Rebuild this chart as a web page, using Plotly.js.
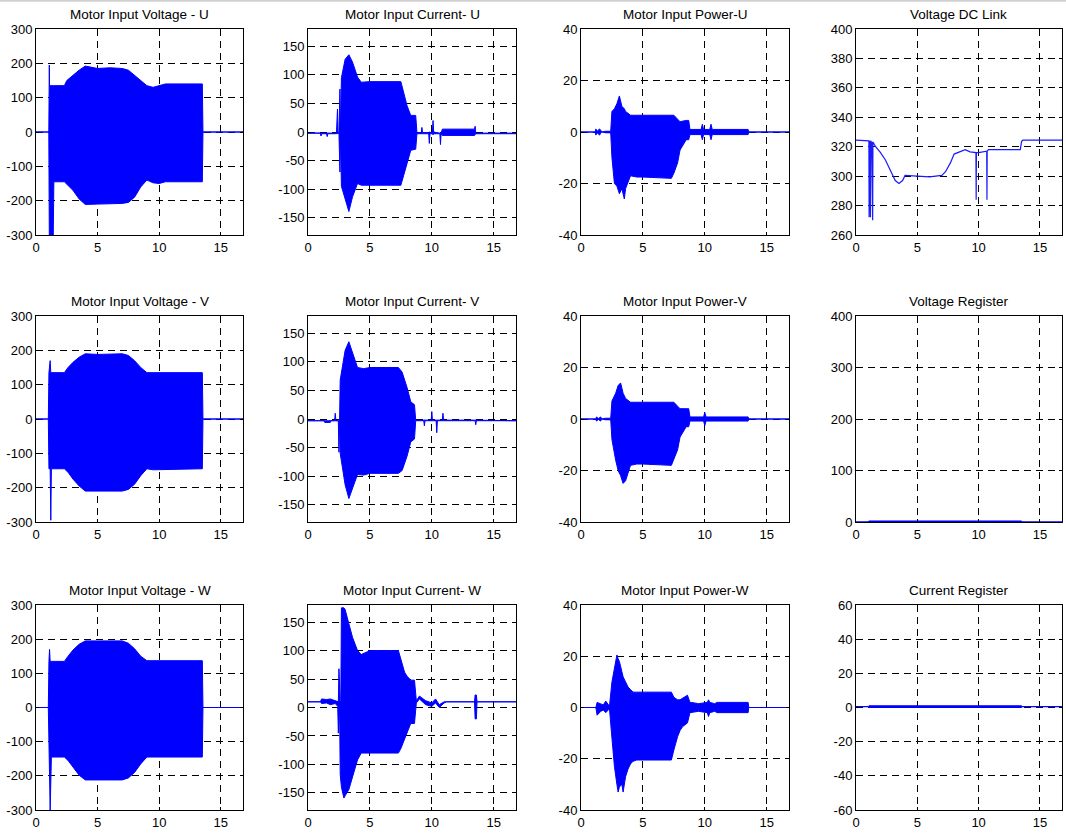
<!DOCTYPE html>
<html>
<head>
<meta charset="utf-8">
<script src="https://cdn.plot.ly/plotly-3.0.1.min.js"></script>
<style>html,body{margin:0;padding:0;background:#fff;}#chart{width:1066px;height:838px;}</style>
</head>
<body>
<div id="chart"></div>
<script>
// ---------- Data (envelopes; time in s) ----------
// Motor Input Voltage - U
var vuT  = [0, 1.04, 1.08, 1.1, 1.4, 1.45, 2.3, 2.5, 3.0, 3.5, 4.0, 5.0, 6.0, 7.0, 7.5, 8.0, 8.5, 9.0, 9.5, 10.0, 10.5, 13.5, 13.55, 16.8];
var vuHi = [0, 0, 195, 135, 135, 135, 135, 150, 165, 180, 192, 185, 187, 185, 180, 165, 150, 135, 130, 135, 140, 140, 0, 0];
var vuLo = [0, 0, -300, -300, -300, -145, -145, -150, -170, -195, -211, -210, -210, -208, -205, -190, -160, -140, -148, -150, -145, -145, 0, 0];
// Motor Input Voltage - V
var vvT  = [0, 1.0, 1.05, 1.15, 1.2, 1.25, 2.3, 2.6, 3.0, 3.5, 4.0, 5.0, 6.0, 7.0, 7.5, 8.0, 8.5, 9.0, 9.5, 10.0, 13.5, 13.55, 16.8];
var vvHi = [0, 0, 135, 170, 135, 135, 135, 150, 165, 180, 190, 188, 190, 190, 185, 170, 150, 135, 135, 135, 135, 0, 0];
var vvLo = [0, 0, -145, -145, -295, -145, -145, -155, -175, -195, -210, -212, -210, -210, -205, -190, -165, -145, -148, -148, -145, 0, 0];
// Motor Input Voltage - W
var vwT  = [0, 1.0, 1.05, 1.1, 1.15, 1.25, 2.3, 2.6, 3.0, 3.5, 4.0, 5.0, 6.0, 7.0, 7.5, 8.0, 8.5, 9.0, 9.5, 10.0, 13.5, 13.55, 16.8];
var vwHi = [0, 0, 135, 170, 135, 135, 135, 150, 168, 185, 195, 195, 195, 195, 188, 172, 150, 137, 137, 137, 137, 0, 0];
var vwLo = [0, 0, -145, -145, -300, -145, -145, -155, -175, -198, -212, -213, -212, -212, -206, -190, -165, -145, -145, -145, -145, 0, 0];

// Motor Input Current - U
var cuT  = [0, 1.0, 1.05, 1.1, 1.5, 1.55, 1.6, 2.3, 2.38, 2.42, 2.5, 2.58, 2.62, 2.7, 3.0, 3.3, 3.6, 4.0, 4.3, 5.0, 7.5, 7.8, 8.0, 8.3, 8.7, 8.8, 9.15, 9.2, 9.25, 9.75, 9.8, 9.85, 10.05, 10.1, 10.15, 10.65, 10.7, 10.75, 10.85, 13.45, 13.5, 13.55, 16.8];
var cuHi = [-2, -2, -2, -2, -2, -2, -2, -2, 40, -2, 0, 75, 0, 95, 127, 135, 122, 96, 87, 88, 88, 61, 46, 29, 29, -1, -1, 8, -1, -1, 0, -1, 0, 20, 0, -2, -2, -2, 5, 5, 10, -2, -2];
var cuLo = [-2, -2, -7, -3, -3, -8, -3, -3, -3, -3, -2, -70, -3, -95, -118, -139, -113, -90, -93, -93, -93, -72, -55, -32, -30, -3, -3, -3, -3, -3, -20, -3, -3, -5, -3, -3, -22, -3, -6, -6, -6, -3, -3];
// Motor Input Current - V
var cvT  = [0, 1.3, 1.35, 1.8, 1.85, 2.15, 2.2, 2.25, 2.45, 2.5, 2.55, 2.6, 3.0, 3.3, 3.6, 4.0, 4.5, 5.0, 7.3, 7.6, 8.0, 8.3, 8.6, 8.7, 9.35, 9.4, 9.45, 9.95, 10.0, 10.05, 10.35, 10.4, 10.45, 10.85, 10.9, 10.95, 13.5, 13.55, 13.6, 16.8];
var cvHi = [-3, -3, -3, -3, -3, -3, 10, -3, -3, -3, -3, 68, 120, 135, 115, 90, 88, 90, 90, 82, 55, 30, 25, -2, -2, -2, -2, -2, 13, -2, -2, -2, -2, -2, 10, -2, -2, -2, -2, -3];
var cvLo = [-3, -3, -6, -6, -3, -3, -3, -3, -3, -58, -3, -60, -115, -139, -120, -97, -98, -95, -95, -90, -65, -40, -35, -3, -3, -12, -3, -3, -3, -3, -3, -24, -3, -3, -3, -3, -3, -10, -3, -3];
// Motor Input Current - W
var cwT  = [0, 1.0, 1.1, 1.5, 1.8, 2.2, 2.4, 2.45, 2.5, 2.55, 2.6, 2.65, 2.7, 2.9, 3.0, 3.3, 3.6, 4.0, 4.3, 4.8, 5.0, 7.3, 7.5, 7.8, 8.0, 8.3, 8.6, 8.75, 9.0, 9.5, 10.0, 10.3, 10.6, 11.0, 11.2, 13.45, 13.5, 13.6, 13.65, 16.8];
var cwHi = [10, 10, 15, 14, 15, 12, 10, 10, 68, 10, 10, 10, 175, 175, 172, 147, 123, 100, 93, 98, 100, 100, 85, 62, 55, 48, 48, 12, 20, 12, 8, 15, 5, 10, 10, 10, 22, 22, 10, 10];
var cwLo = [10, 10, 7, 8, 5, 7, 2, -45, -45, 5, -117, -117, -140, -159, -155, -144, -121, -92, -80, -80, -80, -80, -72, -55, -45, -28, -28, 8, 15, 5, 2, 8, 0, 8, 10, 10, -20, -20, 10, 10];

// Motor Input Power - U
var puT  = [0, 1.15, 1.2, 1.3, 1.5, 1.6, 1.7, 2.0, 2.4, 2.5, 2.7, 2.9, 3.1, 3.3, 3.5, 3.6, 4.0, 4.5, 5.0, 7.3, 7.5, 7.8, 8.0, 8.5, 8.7, 8.8, 9.7, 9.8, 9.9, 10.4, 10.5, 10.6, 13.5, 13.55, 16.8];
var puHi = [0, 0, 1.2, 0.3, 1.2, 0.3, 0, 0.3, 0.3, 8, 9, 11, 14, 10, 9, 8, 6.5, 6.5, 6.5, 6.5, 6.5, 5, 4, 4.5, 4.5, 1, 1, 3, 1, 1, 3, 1, 1, 0, 0];
var puLo = [0, 0, -1.2, -0.3, -1.2, -0.3, 0, -0.3, -0.3, -10, -20, -21, -24, -22, -26, -22, -17, -17.5, -17.5, -18, -16, -12, -7, -3, -3, -1, -1, -3, -1, -1, -3, -1, -1, 0, 0];
// Motor Input Power - V
var pvT  = [0, 1.2, 1.25, 1.4, 1.6, 1.65, 2.0, 2.4, 2.5, 2.8, 3.0, 3.2, 3.4, 3.6, 4.0, 4.5, 5.0, 7.3, 7.5, 7.8, 8.0, 8.5, 8.7, 8.8, 9.9, 10.0, 10.1, 13.5, 13.55, 16.8];
var pvHi = [0, 0, 0.8, 0.2, 0.8, 0, 0.3, 0.3, 7, 10, 13, 14, 10, 8, 6.5, 6.5, 6.5, 6.5, 6.5, 5, 4, 4, 4, 0.8, 0.8, 2.5, 0.8, 0.8, 0, 0];
var pvLo = [0, 0, -0.8, -0.2, -0.8, 0, -0.3, -0.3, -8, -16, -20, -22, -25, -24, -18, -17.5, -17.5, -18, -16, -12, -7, -3, -3, -0.8, -0.8, -2.5, -0.8, -0.8, 0, 0];
// Motor Input Power - W
var pwT  = [0, 1.2, 1.3, 1.6, 1.8, 2.0, 2.2, 2.3, 2.5, 2.7, 2.9, 3.0, 3.1, 3.3, 3.4, 3.6, 3.8, 4.0, 4.2, 4.5, 5.0, 7.3, 7.5, 7.8, 8.0, 8.2, 8.6, 8.8, 8.9, 9.5, 10.2, 10.3, 10.4, 10.8, 11.0, 13.5, 13.55, 16.8];
var pwHi = [0, 0, 2, 1.5, 1, 2.5, 1, 0.5, 10, 15, 20.5, 19, 18, 14, 12, 10, 8, 7, 6, 6, 6, 6, 4, 3, 3, 3.5, 4.8, 2, 2, 1.5, 2, 3, 2, 1.5, 2, 2, 0, 0];
var pwLo = [0, 0, -3, -1.5, -1, -2, -1, -0.5, -12, -23, -30, -33, -31, -30, -33, -27, -24, -22, -21, -20.5, -20.5, -20.5, -16.6, -11.4, -9, -7.5, -6, -2, -2, -1.5, -2, -3.5, -2, -1.5, -2, -2, 0, 0];

// Voltage DC Link (single line)
var dcT = [0, 1.0, 1.05, 1.07, 1.1, 1.12, 1.15, 1.18, 1.2, 1.22, 1.25, 1.28, 1.3, 1.33, 1.36, 1.38, 1.4, 1.6, 2.0, 2.4, 2.8, 3.2, 3.5, 3.8, 4.0, 4.5, 5.0, 6.0, 7.0, 7.3, 7.7, 8.0, 8.5, 8.9, 9.3, 9.78, 9.8, 9.82, 10.0, 10.5, 10.66, 10.68, 10.7, 10.8, 13.4, 13.5, 13.6, 16.8];
var dcV = [324.5, 324.5, 324, 272, 324, 272, 324, 272, 324, 272, 323, 323, 271, 323, 270, 323, 323, 320, 316, 311, 304, 297, 295, 297, 300.5, 300.5, 300, 299.5, 300.5, 303, 309, 315, 316.5, 318, 316.5, 316, 284, 316, 316, 316.5, 317, 284, 317, 318, 318, 323.5, 324.5, 324.5];
// Voltage Register
var vrT  = [0, 1.0, 1.05, 13.5, 13.55, 16.8];
var vrHi = [0, 0, 2, 2, 0, 0];
var vrLo = [0, 0, 0, 0, 0, 0];
// Current Register
var crT  = [0, 1.0, 1.05, 13.5, 13.55, 16.8];
var crHi = [0.5, 0.5, 1, 1, 0.5, 0.5];
var crLo = [0.5, 0.5, 0, 0, 0.5, 0.5];

var titles = [
  'Motor Input Voltage - U', 'Motor Input Current- U', 'Motor Input Power-U', 'Voltage DC Link',
  'Motor Input Voltage - V', 'Motor Input Current- V', 'Motor Input Power-V', 'Voltage Register',
  'Motor Input Voltage - W', 'Motor Input Current- W', 'Motor Input Power-W', 'Current Register'
];
var xTicks = [0, 5, 10, 15];
var yTicksVolt = [-300, -200, -100, 0, 100, 200, 300];
var yTicksCurr = [-150, -100, -50, 0, 50, 100, 150];
var yTicksPow  = [-40, -20, 0, 20, 40];
var yTicksDC   = [260, 280, 300, 320, 340, 360, 380, 400];
var yTicksVR   = [0, 100, 200, 300, 400];
var yTicksCR   = [-60, -40, -20, 0, 20, 40, 60];

// ---------- Build ----------
var W = 1066, H = 838;
var colPx = [[36, 243], [308, 516], [581, 789], [856, 1062]];
var rowPx = [[29, 235], [316, 522], [605, 810]];
var yRanges = [[-300, 300], [-180, 180], [-40, 40]];
var yTickSets = [yTicksVolt, yTicksCurr, yTicksPow];

var panels = [
  [vuT, vuHi, vuLo], [cuT, cuHi, cuLo], [puT, puHi, puLo], null,
  [vvT, vvHi, vvLo], [cvT, cvHi, cvLo], [pvT, pvHi, pvLo], [vrT, vrHi, vrLo],
  [vwT, vwHi, vwLo], [cwT, cwHi, cwLo], [pwT, pwHi, pwLo], [crT, crHi, crLo]
];

var FONT = 'Arial, "Liberation Sans", sans-serif';
var data = [];
var layout = {
  width: W, height: H,
  margin: {l: 0, r: 0, t: 0, b: 0},
  paper_bgcolor: '#fff', plot_bgcolor: '#fff',
  showlegend: false,
  font: {family: FONT, size: 12, color: '#000'},
  annotations: [],
  shapes: [{type: 'line', xref: 'paper', yref: 'paper', x0: 0, x1: 1, y0: 0.999, y1: 0.999,
            line: {color: '#d0d0d0', width: 2}}]
};

for (var i = 0; i < 12; i++) {
  var r = Math.floor(i / 4), c = i % 4;
  var n = i + 1;
  var xa = 'x' + (n === 1 ? '' : n), ya = 'y' + (n === 1 ? '' : n);
  var yr, yt;
  if (c < 3) { yr = yRanges[c]; yt = yTickSets[c]; }
  else if (r === 0) { yr = [260, 400]; yt = yTicksDC; }
  else if (r === 1) { yr = [0, 400]; yt = yTicksVR; }
  else { yr = [-60, 60]; yt = yTicksCR; }
  var common = {
    showline: true, mirror: 'allticks', linecolor: '#000', linewidth: 1,
    ticks: 'inside', ticklen: 3, tickcolor: '#000',
    showgrid: true, gridcolor: '#000', gridwidth: 1, griddash: '7px,5px',
    zeroline: false, fixedrange: true,
    tickfont: {family: FONT, size: 13, color: '#000'}
  };
  var xaxis = Object.assign({}, common, {
    domain: [colPx[c][0] / W, colPx[c][1] / W],
    range: [0, 16.8], tickmode: 'array', tickvals: xTicks, ticktext: xTicks.map(String),
    anchor: ya
  });
  var yaxis = Object.assign({}, common, {
    domain: [1 - rowPx[r][1] / H, 1 - rowPx[r][0] / H],
    range: yr, tickmode: 'array', tickvals: yt, ticktext: yt.map(String),
    anchor: xa
  });
  layout['xaxis' + (n === 1 ? '' : n)] = xaxis;
  layout['yaxis' + (n === 1 ? '' : n)] = yaxis;

  if (panels[i]) {
    var t = panels[i][0], hi = panels[i][1], lo = panels[i][2];
    var px = t.concat(t.slice().reverse());
    var py = hi.concat(lo.slice().reverse());
    data.push({
      type: 'scatter', mode: 'lines', x: px, y: py, xaxis: xa, yaxis: ya,
      fill: 'toself', fillcolor: '#0000ff',
      line: {color: '#0000ff', width: 1}, hoverinfo: 'skip'
    });
  } else {
    data.push({
      type: 'scatter', mode: 'lines', x: dcT, y: dcV, xaxis: xa, yaxis: ya,
      line: {color: '#1a1aff', width: 1.2}, hoverinfo: 'skip'
    });
  }

  layout.annotations.push({
    text: titles[i], xref: 'paper', yref: 'paper',
    x: (colPx[c][0] + colPx[c][1]) / 2 / W,
    y: 1 - (rowPx[r][0] - 15) / H,
    xanchor: 'center', yanchor: 'middle', showarrow: false,
    font: {family: FONT, size: 13.5, color: '#000'}
  });
}

Plotly.newPlot('chart', data, layout, {staticPlot: true, displayModeBar: false});
</script>
</body>
</html>
